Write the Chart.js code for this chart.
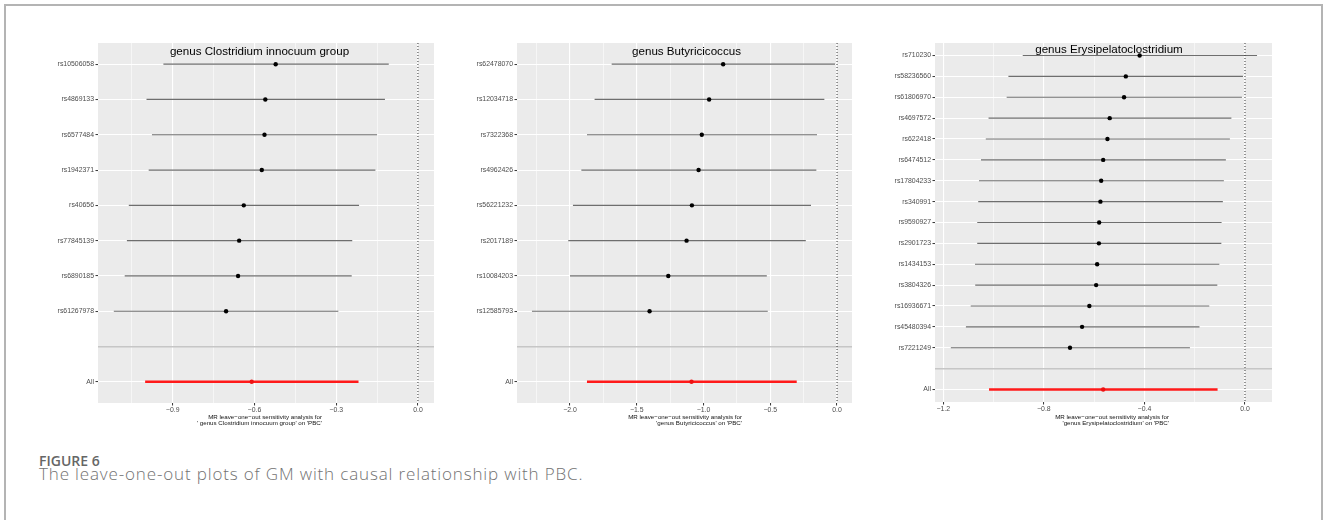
<!DOCTYPE html>
<html>
<head>
<meta charset="utf-8">
<script src="https://cdn.jsdelivr.net/npm/chart.js@4/dist/chart.umd.min.js"></script>
<style>
  html, body { margin: 0; padding: 0; background: #fff; }
  body { width: 1328px; height: 520px; position: relative; overflow: hidden; }
  .frame { position: absolute; left: 4px; top: 4px; width: 1315px; height: 600px;
           border-left: 2px solid #b4b4b4; border-top: 2px solid #b4b4b4; border-right: 2px solid #b4b4b4; }
  canvas { position: absolute; }
  .ptitle { position: absolute; width: 400px; text-align: center; font-family: "Liberation Sans", Arial, sans-serif;
            font-size: 11.6px; line-height: 1; color: #000; white-space: nowrap; }
  .xtitle { position: absolute; width: 300px; text-align: right; font-family: "Liberation Sans", Arial, sans-serif;
            font-size: 6.2px; line-height: 6.7px; color: #111; white-space: pre; }
  .figlabel { position: absolute; left: 39px; top: 453.6px; font-family: "Open Sans", sans-serif; font-weight: 600;
              font-size: 14px; line-height: 1; color: #666; }
  .caption { position: absolute; left: 39px; top: 465px; font-family: "Open Sans", sans-serif; font-weight: 300;
             font-size: 17px; letter-spacing: 0.85px; line-height: 1; color: #727272; white-space: nowrap; }
</style>
</head>
<body>
<div class="frame"></div>
<canvas id="c1"></canvas>
<canvas id="c2"></canvas>
<canvas id="c3"></canvas>
<div class="ptitle" id="t1"></div>
<div class="ptitle" id="t2"></div>
<div class="ptitle" id="t3"></div>
<div class="xtitle" id="x1"></div>
<div class="xtitle" id="x2"></div>
<div class="xtitle" id="x3"></div>
<div class="figlabel">FIGURE 6</div>
<div class="caption">The leave-one-out plots of GM with causal relationship with PBC.</div>
<script>
// ---------------- DATA ----------------
// Panel 1: genus Clostridium innocuum group
const p1Title = 'genus Clostridium innocuum group';
const p1AxisTitle = ['MR leave\u2212one\u2212out sensitivity analysis for', "' genus Clostridium innocuum group' on 'PBC'"];
const p1Snps = ['rs10506058','rs4869133','rs6577484','rs1942371','rs40656','rs77845139','rs6890185','rs61267978'];
const p1Beta = [-0.522,-0.560,-0.563,-0.573,-0.639,-0.656,-0.660,-0.704];
const p1Lo   = [-0.934,-0.996,-0.976,-0.988,-1.061,-1.068,-1.076,-1.116];
const p1Hi   = [-0.107,-0.121,-0.150,-0.156,-0.216,-0.241,-0.243,-0.292];
const p1All  = [-0.610,-1.001,-0.218];           // beta, lower, upper
const p1Range = [-1.174, 0.059];
const p1Major = [-0.9,-0.6,-0.3,0.0];
const p1Minor = [-1.05,-0.75,-0.45,-0.15];

// Panel 2: genus Butyricicoccus
const p2Title = 'genus Butyricicoccus';
const p2AxisTitle = ['MR leave\u2212one\u2212out sensitivity analysis for', "'genus Butyricicoccus' on 'PBC'"];
const p2Snps = ['rs62478070','rs12034718','rs7322368','rs4962426','rs56221232','rs2017189','rs10084203','rs12585793'];
const p2Beta = [-0.853,-0.958,-1.013,-1.037,-1.087,-1.127,-1.264,-1.404];
const p2Lo   = [-1.688,-1.816,-1.873,-1.915,-1.978,-2.013,-2.000,-2.285];
const p2Hi   = [-0.015,-0.095,-0.150,-0.155,-0.195,-0.234,-0.526,-0.519];
const p2All  = [-1.090,-1.873,-0.302];
const p2Range = [-2.397, 0.112];
const p2Major = [-2.0,-1.5,-1.0,-0.5,0.0];
const p2Minor = [-2.25,-1.75,-1.25,-0.75,-0.25];

// Panel 3: genus Erysipelatoclostridium
const p3Title = 'genus Erysipelatoclostridium';
const p3AxisTitle = ['MR leave\u2212one\u2212out sensitivity analysis for', "'genus Erysipelatoclostridium' on 'PBC'"];
const p3Snps = ['rs710230','rs58236560','rs61806970','rs4697572','rs622418','rs6474512','rs17804233','rs340991',
                'rs9590927','rs2901723','rs1434153','rs3804326','rs16936671','rs45480394','rs7221249'];
const p3Beta = [-0.419,-0.474,-0.481,-0.538,-0.547,-0.564,-0.572,-0.575,-0.580,-0.581,-0.588,-0.592,-0.619,-0.648,-0.696];
const p3Lo   = [-0.884,-0.941,-0.948,-1.020,-1.031,-1.050,-1.058,-1.061,-1.065,-1.065,-1.074,-1.073,-1.091,-1.110,-1.170];
const p3Hi   = [0.048,-0.008,-0.012,-0.054,-0.060,-0.076,-0.084,-0.088,-0.093,-0.094,-0.102,-0.110,-0.142,-0.181,-0.219];
const p3All  = [-0.564,-1.018,-0.109];
const p3Range = [-1.233, 0.1075];
const p3Major = [-1.2,-0.8,-0.4,0.0];
const p3Minor = [-1.0,-0.6,-0.2];

// ---------------- LAYOUT ----------------
Chart.defaults.font.family = '"Liberation Sans", Arial, sans-serif';
const bgPlugin = {
  id: 'panelBg',
  beforeDraw(chart) {
    const { ctx, chartArea: a } = chart;
    ctx.save();
    ctx.fillStyle = '#ebebeb';
    ctx.fillRect(a.left, a.top, a.right - a.left, a.bottom - a.top);
    ctx.restore();
  }
};

function fmt(v) {
  return v.toFixed(1).replace('-', '\u2212');
}

function makePanel(id, box, area, snps, beta, lo, hi, all, range, major, minor) {
  const cv = document.getElementById(id);
  cv.style.left = box.x + 'px'; cv.style.top = box.y + 'px';
  cv.width = box.w; cv.height = box.h;
  cv.style.width = box.w + 'px'; cv.style.height = box.h + 'px';
  const m = snps.length;
  const rows = snps.map((s, i) => ({ y: i, b: beta[i], lo: lo[i], hi: hi[i], all: false }));
  rows.push({ y: m + 1, b: all[0], lo: all[1], hi: all[2], all: true });
  const yLabels = [...snps, '', 'All'];
  const xH = 14;
  const datasets = [];
  datasets.push({
    data: rows.map(r => ({ x: r.b, y: r.y })),
    pointRadius: 2.2, pointBorderWidth: 0,
    pointBackgroundColor: rows.map(r => r.all ? '#ee1111' : '#000000'),
    pointBorderColor: 'rgba(0,0,0,0)', showLine: false
  });
  datasets.push({
    data: [{ x: 0, y: -0.6 }, { x: 0, y: m + 1.6 }],
    showLine: true, borderColor: '#333333', borderWidth: 1, borderDash: [1, 2], pointRadius: 0
  });
  rows.forEach(r => datasets.push({
    data: [{ x: r.lo, y: r.y }, { x: r.hi, y: r.y }],
    showLine: true, pointRadius: 0,
    borderColor: r.all ? '#ff1a1a' : '#6e6e6e',
    borderWidth: r.all ? 2.4 : 1.2
  }));
  const majorSet = new Set(major.map(v => v.toFixed(3)));
  const isMajor = v => majorSet.has(Number(v).toFixed(3));
  return new Chart(cv, {
    type: 'scatter',
    data: { datasets },
    plugins: [bgPlugin],
    options: {
      animation: false, responsive: false, maintainAspectRatio: false,
      layout: { padding: { left: 0, top: area.T - box.y, right: box.x + box.w - area.R, bottom: box.y + box.h - area.B - xH } },
      plugins: { legend: { display: false }, tooltip: { enabled: false }, title: { display: false } },
      scales: {
        x: {
          type: 'linear', min: range[0], max: range[1],
          afterBuildTicks: ax => { ax.ticks = [...minor, ...major].sort((a, b) => a - b).map(v => ({ value: v })); },
          afterFit: ax => { ax.height = xH; },
          border: { display: false },
          grid: {
            color: '#ffffff',
            lineWidth: c => isMajor(c.tick.value) ? 1.1 : 0.55,
            tickColor: c => isMajor(c.tick.value) ? '#333333' : 'rgba(0,0,0,0)',
            tickLength: 2.5, tickWidth: 1
          },
          ticks: {
            autoSkip: false, maxRotation: 0, padding: 0.5,
            color: '#4d4d4d', font: { size: 6.9 },
            callback: v => isMajor(v) ? fmt(v) : ''
          }
        },
        y: {
          type: 'linear', min: -0.6, max: m + 1.6, reverse: true,
          afterBuildTicks: ax => { ax.ticks = yLabels.map((l, i) => ({ value: i })); },
          afterFit: ax => { ax.width = area.L - box.x; },
          border: { display: false },
          grid: {
            color: c => c.tick.value === m ? '#c6c6c6' : '#ffffff',
            lineWidth: c => c.tick.value === m ? 1.4 : 1.1,
            tickColor: c => c.tick.value === m ? 'rgba(0,0,0,0)' : '#333333',
            tickLength: 2.5, tickWidth: 1
          },
          ticks: {
            autoSkip: false, padding: 1.5,
            color: '#4d4d4d', font: { size: 6.9 },
            callback: v => yLabels[v] !== undefined ? yLabels[v] : ''
          }
        }
      }
    }
  });
}

function placeText(id, text, css) {
  const el = document.getElementById(id);
  el.textContent = text;
  Object.assign(el.style, css);
}

makePanel('c1', { x: 10, y: 30, w: 430, h: 400 }, { L: 98, T: 43, R: 434, B: 403 },
  p1Snps, p1Beta, p1Lo, p1Hi, p1All, p1Range, p1Major, p1Minor);
makePanel('c2', { x: 445, y: 30, w: 415, h: 400 }, { L: 517, T: 43, R: 852, B: 403 },
  p2Snps, p2Beta, p2Lo, p2Hi, p2All, p2Range, p2Major, p2Minor);
makePanel('c3', { x: 880, y: 30, w: 400, h: 400 }, { L: 935, T: 43, R: 1272, B: 402 },
  p3Snps, p3Beta, p3Lo, p3Hi, p3All, p3Range, p3Major, p3Minor);

placeText('t1', p1Title, { left: (259.5 - 200) + 'px', top: '45.2px' });
placeText('t2', p2Title, { left: (686.5 - 200) + 'px', top: '45.2px' });
placeText('t3', p3Title, { left: (1109 - 200) + 'px', top: '42.9px' });
placeText('x1', p1AxisTitle.join('\n'), { left: (322 - 300) + 'px', top: '413.7px' });
placeText('x2', p2AxisTitle.join('\n'), { left: (742 - 300) + 'px', top: '413.7px' });
placeText('x3', p3AxisTitle.join('\n'), { left: (1169 - 300) + 'px', top: '413.7px' });
</script>
</body>
</html>
